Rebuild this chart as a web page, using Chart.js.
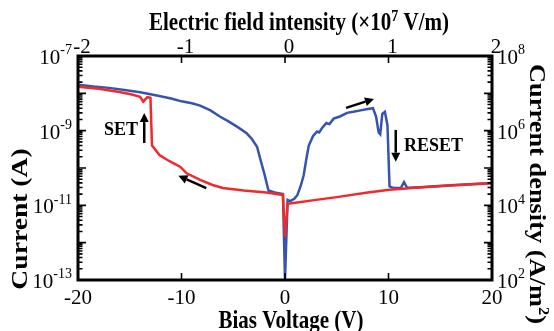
<!DOCTYPE html>
<html lang="en">
<head>
<meta charset="UTF-8">
<title>I-V switching curve</title>
<script src="https://cdn.jsdelivr.net/npm/chart.js"></script>
<style>
  html, body { margin: 0; padding: 0; background: #fff; }
  .wrap { width: 554px; height: 331px; position: relative; }
</style>
</head>
<body>
<div class="wrap"><canvas id="iv"></canvas></div>
<script>
// sweep data (V, A)
const blueV = [-20, -18.5, -17, -15.5, -14, -12.5, -11, -10, -9, -8.2, -7.2, -6.3, -5.5, -4.6, -3.7, -3.2, -2.7, -2.4, -2.0, -1.6,
  -1.0, -0.2, 0, 0.25, 0.5, 0.9, 1.2, 1.5, 1.8, 2.1, 2.3, 2.7, 3.1, 3.3, 3.6, 4.0, 4.3, 4.7, 5.3, 6.0,
  6.6, 7.3, 8.0, 8.5, 8.8, 9.05, 9.2, 9.4, 9.65, 9.9, 10.1, 10.5, 11.2, 11.5, 11.8, 13, 16, 20];
const blueI = [1.7e-8, 1.52e-8, 1.4e-8, 1.22e-8, 1.07e-8, 8.9e-9, 7.3e-9, 6.1e-9, 5.4e-9, 4.7e-9, 3.5e-9, 2.4e-9, 1.8e-9, 1.26e-9, 8.5e-10, 6.0e-10, 3.7e-10, 1.8e-10, 7.1e-11, 2.5e-11,
  2.2e-11, 2.0e-11, 1e-13, 1.4e-11, 1.3e-11, 1.5e-11, 1.9e-11, 3.2e-11, 6.3e-11, 2.0e-10, 4.0e-10, 7.1e-10, 9.5e-10, 9.0e-10, 1.2e-9, 1.6e-9, 1.5e-9, 2.1e-9, 2.4e-9, 3.0e-9,
  3.2e-9, 3.5e-9, 3.8e-9, 4.0e-9, 2.4e-9, 8.9e-10, 8.0e-10, 2.8e-9, 3.2e-9, 1.4e-9, 3.2e-11, 2.9e-11, 2.95e-11, 4.2e-11, 2.95e-11, 3.05e-11, 3.45e-11, 3.95e-11];
const redV = [-20, -18, -16, -14.8, -14.0, -13.7, -13.3, -13.0, -12.85, -12.1, -11.4, -10.8, -10.1, -9.5, -8.2,
  -7.0, -6.0, -4.0, -1.8, -0.2, 0, 0.25, 1.0, 3, 5, 8, 10.1, 13, 16, 20];
const redI = [1.5e-8, 1.33e-8, 1.08e-8, 9.3e-9, 8.1e-9, 6.0e-9, 7.9e-9, 7.6e-9, 4.0e-10, 2.2e-10, 1.66e-10, 1.35e-10, 1.07e-10, 7.2e-11, 4.8e-11,
  3.5e-11, 2.9e-11, 2.5e-11, 2.2e-11, 1.9e-11, 1.4e-12, 1.1e-11, 1.17e-11, 1.4e-11, 1.66e-11, 2.2e-11, 2.6e-11, 3.0e-11, 3.4e-11, 3.9e-11];

// axis ticks
const voltTicks = [-20, -10, 0, 10, 20];
const fieldTicks = [-2, -1, 0, 1, 2];
const currentTicks = [1e-7, 1e-9, 1e-11, 1e-13];
const densityTicks = [1e8, 1e6, 1e4, 1e2];

const SERIF = '"Liberation Serif", "Times New Roman", serif';
const font = (size, bold) => (bold ? 'bold ' : '') + size + 'px ' + SERIF;

function drawPow(ctx, exp, x, y, align, size) {
  // "10" with a raised exponent, y = centre of the digits
  const base = '10', sup = String(exp);
  const ss = Math.round(size * 0.66);
  ctx.font = font(size); const w1 = ctx.measureText(base).width;
  ctx.font = font(ss); const w2 = ctx.measureText(sup).width;
  const x0 = align === 'right' ? x - w1 - w2 : x;
  ctx.textAlign = 'left';
  ctx.textBaseline = 'alphabetic';
  ctx.font = font(size); ctx.fillText(base, x0, y + size * 0.33);
  ctx.font = font(ss); ctx.fillText(sup, x0 + w1, y - size * 0.12);
}

// centred text made of pieces [text, size, raise], optionally rotated and stretched
function richText(ctx, parts, cx, cy, rot, stretch, vstretch) {
  ctx.save();
  ctx.translate(cx, cy);
  ctx.rotate(rot);
  ctx.scale(stretch, vstretch);
  ctx.textAlign = 'left';
  ctx.textBaseline = 'alphabetic';
  let total = 0;
  const ws = parts.map(p => { ctx.font = font(p[1], true); const w = ctx.measureText(p[0]).width; total += w; return w; });
  let px = -total / 2;
  parts.forEach((p, i) => {
    ctx.font = font(p[1], true);
    ctx.fillText(p[0], px, -p[2]);
    px += ws[i];
  });
  ctx.restore();
}

function arrow(ctx, x0, y0, x1, y1) {
  const ang = Math.atan2(y1 - y0, x1 - x0), hl = 9, hw = 4.5;
  const bx = x1 - hl * Math.cos(ang), by = y1 - hl * Math.sin(ang);
  ctx.lineWidth = 2.5;
  ctx.beginPath();
  ctx.moveTo(x0, y0);
  ctx.lineTo(bx, by);
  ctx.stroke();
  ctx.beginPath();
  ctx.moveTo(x1, y1);
  ctx.lineTo(bx + hw * Math.sin(ang), by - hw * Math.cos(ang));
  ctx.lineTo(bx - hw * Math.sin(ang), by + hw * Math.cos(ang));
  ctx.closePath();
  ctx.fill();
}

const axesPlugin = {
  id: 'axesPlugin',
  afterDraw(chart) {
    const { ctx, chartArea: a, scales } = chart;
    const { x, x2, y, y2 } = scales;
    ctx.save();
    ctx.strokeStyle = '#000';
    ctx.fillStyle = '#000';

    // inward ticks
    ctx.lineWidth = 1.6;
    ctx.beginPath();
    voltTicks.forEach(v => {
      const px = x.getPixelForValue(v);
      ctx.moveTo(px, a.bottom); ctx.lineTo(px, a.bottom - 7);
    });
    fieldTicks.forEach(v => {
      const px = x2.getPixelForValue(v);
      ctx.moveTo(px, a.top); ctx.lineTo(px, a.top + 7);
    });
    const logTicks = (scale, lo, hi, xEdge, dir) => {
      for (let e = lo; e < hi; e++) {
        for (let d = 1; d < 10; d++) {
          const py = scale.getPixelForValue(d * Math.pow(10, e));
          const len = d === 1 ? 8 : 4.5;
          ctx.moveTo(xEdge, py); ctx.lineTo(xEdge + dir * len, py);
        }
      }
    };
    logTicks(y, -13, -7, a.left, 1);
    logTicks(y2, 2, 8, a.right, -1);
    ctx.stroke();

    // frame
    ctx.lineWidth = 3;
    ctx.strokeRect(a.left, a.top, a.right - a.left, a.bottom - a.top);

    // tick labels
    ctx.font = font(21);
    ctx.textAlign = 'center';
    ctx.textBaseline = 'alphabetic';
    voltTicks.forEach(v => ctx.fillText(String(v), x.getPixelForValue(v), a.bottom + 24));
    fieldTicks.forEach(v => ctx.fillText(String(v), x2.getPixelForValue(v) + 4, a.top - 3));
    currentTicks.forEach(v => drawPow(ctx, Math.round(Math.log10(v)), a.left - 6, y.getPixelForValue(v) + 1, 'right', 21));
    densityTicks.forEach(v => drawPow(ctx, Math.round(Math.log10(v)), a.right + 5, y2.getPixelForValue(v) + 1, 'left', 21));

    // axis titles
    const mid = (a.left + a.right) / 2 + 6;
    richText(ctx, [['Bias Voltage (V)', 21, 0]], mid, 328, 0, 1, 1.15);
    richText(ctx, [['Electric field intensity (\u00d710', 21, 0], ['7', 14, 8], [' V/m)', 21, 0]], mid + 8, 30, 0, 1, 1.15);
    richText(ctx, [['Current (A)', 24, 0]], 27, 219, -Math.PI / 2, 1.15, 1);
    richText(ctx, [['Current density (A/m', 24, 0], ['2', 15, 9], [')', 24, 0]], 530, 194, Math.PI / 2, 1.1, 1);

    // annotations
    const P = (v, e) => [x.getPixelForValue(v), y.getPixelForValue(Math.pow(10, e))];
    let p0, p1;
    p0 = P(-13.6, -9.33); p1 = P(-13.6, -8.53); arrow(ctx, p0[0], p0[1], p1[0], p1[1]);
    p0 = P(-7.6, -10.54); p1 = P(-10.3, -10.21); arrow(ctx, p0[0], p0[1], p1[0], p1[1]);
    p0 = P(5.9, -8.39); p1 = P(8.6, -8.15); arrow(ctx, p0[0], p0[1], p1[0], p1[1]);
    p0 = P(10.7, -8.98); p1 = P(10.7, -9.83); arrow(ctx, p0[0], p0[1], p1[0], p1[1]);

    ctx.font = font(18, true);
    ctx.textBaseline = 'middle';
    ctx.textAlign = 'right';
    p0 = P(-14.2, -8.96); ctx.fillText('SET', p0[0], p0[1] + 1);
    ctx.textAlign = 'left';
    p0 = P(11.5, -9.38); ctx.fillText('RESET', p0[0], p0[1] + 1);

    ctx.restore();
  }
};

const toPts = (xs, ys) => xs.map((v, i) => ({ x: v, y: ys[i] }));

new Chart(document.getElementById('iv'), {
  type: 'line',
  data: {
    datasets: [
      {
        label: 'Sweep back',
        data: toPts(redV, redI),
        borderColor: '#f02a2a',
        borderWidth: 2.5,
        pointRadius: 0,
        tension: 0,
        fill: false
      },
      {
        label: 'Sweep forward',
        data: toPts(blueV, blueI),
        borderColor: '#3554ad',
        borderWidth: 2.5,
        pointRadius: 0,
        tension: 0,
        fill: false
      }
    ]
  },
  options: {
    responsive: true,
    maintainAspectRatio: false,
    animation: false,
    devicePixelRatio: 1,
    layout: { padding: { left: 78, right: 62, top: 56, bottom: 51 } },
    plugins: { legend: { display: false }, tooltip: { enabled: false } },
    scales: {
      x: { type: 'linear', min: -20, max: 20, display: false },
      x2: { type: 'linear', axis: 'x', position: 'top', min: -2, max: 2, display: false },
      y: { type: 'logarithmic', min: 1e-13, max: 1e-7, display: false },
      y2: { type: 'logarithmic', axis: 'y', position: 'right', min: 1e2, max: 1e8, display: false }
    }
  },
  plugins: [axesPlugin]
});
</script>
</body>
</html>
